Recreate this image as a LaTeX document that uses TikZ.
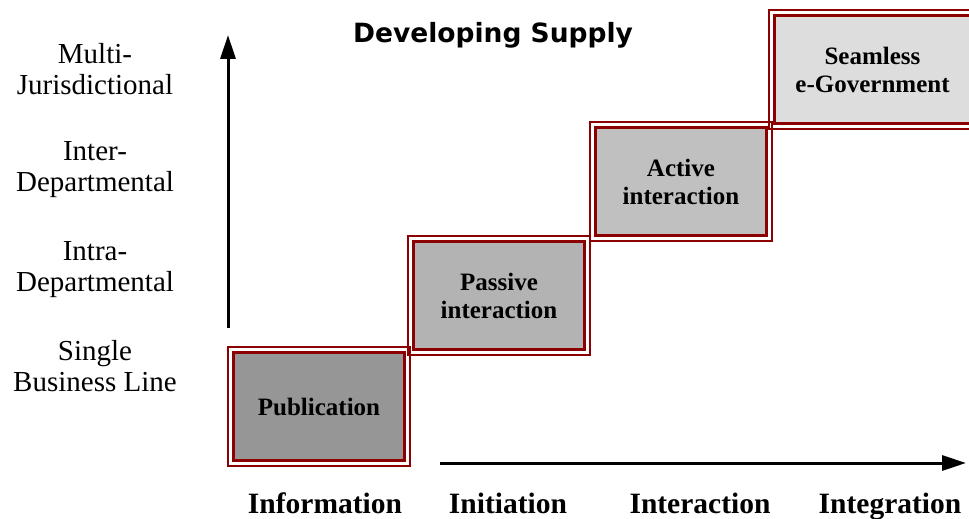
\documentclass[tikz,border=0pt]{standalone}
\usepackage{fontspec}
\setmainfont{Liberation Serif}
\newfontfamily\titlefont{DejaVu Sans}
\usepackage{xcolor}
\usetikzlibrary{arrows.meta,positioning}
\definecolor{boxred}{RGB}{139,0,0}
\definecolor{pubgray}{RGB}{150,150,150}
\definecolor{pasgray}{RGB}{179,179,179}
\definecolor{actgray}{RGB}{192,192,192}
\definecolor{seagray}{RGB}{221,221,221}

\begin{document}
\begin{tikzpicture}[x=1pt,y=1pt,yscale=-1,
  stage/.style={draw=boxred, line width=3pt, minimum width=171pt, minimum height=108pt, inner sep=0pt, outer sep=0pt, align=center, font=\fontsize{25}{28}\selectfont\bfseries},
  frame/.style={draw=boxred, line width=1.8pt},
  level/.style={align=center, font=\fontsize{29}{31}\selectfont},
  phase/.style={anchor=base, font=\fontsize{29.5}{31}\selectfont\bfseries},
  axis/.style={line width=3pt, -{Triangle[length=24pt,width=15pt]}}]
\useasboundingbox (0,0) rectangle (969,519);

%Shape: Rectangle [stages]
\node[stage, fill=pubgray] (pub) at (319,406.5) {Publication};
\node[stage, fill=pasgray] (pas) at (499,295.5) {Passive\\interaction};
\node[stage, fill=actgray] (act) at (681,181.5) {Active\\interaction};
\node[stage, fill=seagray, minimum width=196pt] (sea) at (872.5,69.5) {Seamless\\e-Government};
%Shape: Rectangle [outer frames]
\foreach \n in {pub,pas,act,sea}
  \draw[frame] ([xshift=-5.5pt,yshift=-5.5pt]\n.north west) rectangle ([xshift=5.5pt,yshift=5.5pt]\n.south east);

%Straight Lines [axes]
\coordinate (vbot) at (228,328);
\coordinate (vtop) at (228,35);
\draw[axis] (vbot) -- (vtop);
\coordinate (hleft) at (440,463);
\coordinate (hright) at (966,463);
\draw[axis] (hleft) -- (hright);

% Text Node
\node[anchor=base, font=\titlefont\bfseries\fontsize{26.5}{30}\selectfont] (title) at (493,43) {Developing Supply};
% Text Node
\node[level] (multi) at (95,69) {Multi-\\Jurisdictional};
\node[level] (inter) at (95,170) {Inter-\\Departmental};
\node[level] (intra) at (95,270) {Intra-\\Departmental};
\node[level] (single) at (95,366) {Single\\Business Line};
% Text Node
\node[phase] (info) at (325,513) {Information};
\node[phase] (init) at (508,513) {Initiation};
\node[phase] (intc) at (700,513) {Interaction};
\node[phase] (intg) at (890,513) {Integration};
\end{tikzpicture}
\end{document}
